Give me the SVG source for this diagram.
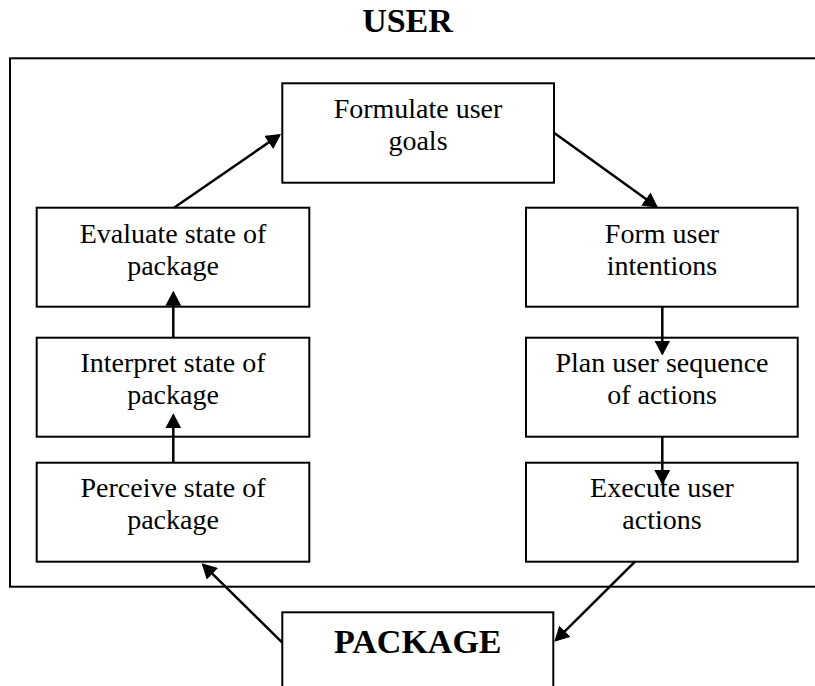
<svg xmlns="http://www.w3.org/2000/svg" width="815" height="686" viewBox="0 0 815 686">
  <style>
    .box { fill: #ffffff; stroke: #000000; stroke-width: 2; }
    .frame { fill: none; stroke: #000000; stroke-width: 2; }
    .label { font-family: "Liberation Serif", "Times New Roman", serif; font-size: 28px; fill: #000000; text-anchor: middle; }
    .title { font-family: "Liberation Serif", "Times New Roman", serif; font-weight: bold; font-size: 34px; fill: #000000; text-anchor: middle; }
    .conn { stroke: #000000; stroke-width: 2.5; fill: none; marker-end: url(#head); }
  </style>
  <defs>
    <marker id="head" markerUnits="userSpaceOnUse" markerWidth="15" markerHeight="16" viewBox="0 0 15 16" refX="13" refY="8" orient="auto">
      <path d="M0,0 L15,8 L0,16 z" fill="#000000"/>
    </marker>
  </defs>

  <rect width="815" height="686" fill="#ffffff"/>

  <!-- user frame -->
  <g id="user">
    <text class="title" x="407.5" y="32">USER</text>
    <rect class="frame" x="10" y="58.3" width="820" height="528.4"/>
  </g>

  <g id="formulate">
    <rect class="box" x="282.3" y="83.3" width="271.7" height="99.4"/>
    <text class="label" x="418" y="118.3">Formulate user</text>
    <text class="label" x="418" y="150.3">goals</text>
  </g>

  <g id="evaluate">
    <rect class="box" x="36.7" y="207.7" width="272.6" height="99"/>
    <text class="label" x="173" y="242.5">Evaluate state of</text>
    <text class="label" x="173" y="274.5">package</text>
  </g>

  <g id="interpret">
    <rect class="box" x="36.7" y="337.7" width="272.6" height="99"/>
    <text class="label" x="173" y="372">Interpret state of</text>
    <text class="label" x="173" y="404">package</text>
  </g>

  <g id="perceive">
    <rect class="box" x="36.7" y="462.7" width="272.6" height="99"/>
    <text class="label" x="173" y="497">Perceive state of</text>
    <text class="label" x="173" y="529">package</text>
  </g>

  <g id="form">
    <rect class="box" x="526" y="207.7" width="271.7" height="99"/>
    <text class="label" x="662" y="242.5">Form user</text>
    <text class="label" x="662" y="274.5">intentions</text>
  </g>

  <g id="plan">
    <rect class="box" x="526" y="337.7" width="271.7" height="99"/>
    <text class="label" x="662" y="372">Plan user sequence</text>
    <text class="label" x="662" y="404">of actions</text>
  </g>

  <g id="execute">
    <rect class="box" x="526" y="462.7" width="271.7" height="99"/>
    <text class="label" x="662" y="497">Execute user</text>
    <text class="label" x="662" y="529">actions</text>
  </g>

  <g id="package">
    <rect class="box" x="282.3" y="612.3" width="271" height="90"/>
    <text class="title" x="417.8" y="652.5">PACKAGE</text>
  </g>

  <!-- connectors -->
  <g id="connectors">
    <line class="conn" x1="174" y1="207.7" x2="279.4" y2="135.1"/>
    <line class="conn" x1="554" y1="132.7" x2="656.4" y2="206.5"/>
    <line class="conn" x1="662.3" y1="306.7" x2="662.3" y2="353.5"/>
    <line class="conn" x1="662.3" y1="436.7" x2="662.3" y2="483"/>
    <line class="conn" x1="635" y1="561.7" x2="555.7" y2="640.3"/>
    <line class="conn" x1="282.3" y1="642.7" x2="203.1" y2="564.7"/>
    <line class="conn" x1="173.3" y1="462.7" x2="173.3" y2="415.3"/>
    <line class="conn" x1="173.3" y1="337.7" x2="173.3" y2="292.7"/>
  </g>
</svg>
